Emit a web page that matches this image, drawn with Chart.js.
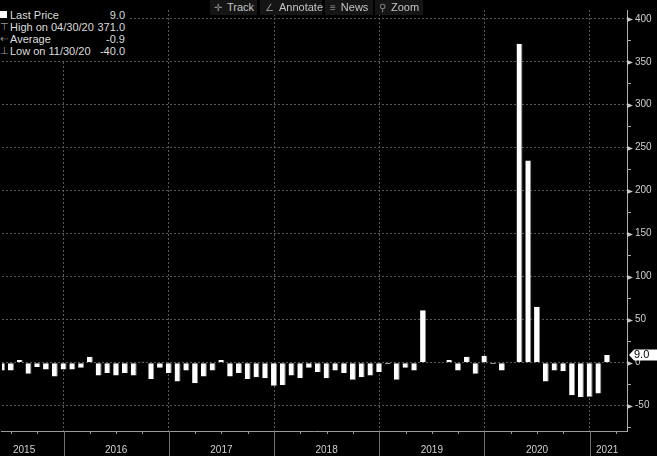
<!DOCTYPE html>
<html>
<head>
<meta charset="utf-8">
<script src="https://cdn.jsdelivr.net/npm/chart.js@4.4.1/dist/chart.umd.min.js"></script>
<style>
    html, body { margin: 0; padding: 0; background: #000; }
    #wrap { position: relative; width: 657px; height: 456px; overflow: hidden; font-family: "Liberation Sans", Arial, sans-serif; }
    #chart { position: absolute; left: 0; top: 0; }
    .legend { position: absolute; left: 0; top: 9px; width: 130px; background: #000; color: #dcdcdc; font-size: 11px; padding-bottom: 3px; }
    .legend .row { display: flex; height: 12px; line-height: 12px; white-space: nowrap; }
    .legend .ico { width: 10px; color: #9a9a9a; font-size: 10px; position: relative; }
    .legend .sq { position: absolute; left: 0; top: 2px; width: 7px; height: 7px; background: #fff; }
    .legend .lbl { flex: 1; }
    .legend .val { text-align: right; padding-right: 5px; }
    .btn { position: absolute; top: 0; height: 15px; line-height: 15px; background: #151515; color: #c4c4c4; font-size: 11px; white-space: nowrap; }
    .btn .i { color: #8c8c8c; margin-right: 5px; font-size: 10px; }
</style>
</head>
<body>
<div id="wrap">
    <canvas id="chart" width="657" height="456"></canvas>
    <div class="legend">
        <div class="row"><span class="ico"><span class="sq"></span></span><span class="lbl">Last Price</span><span class="val">9.0</span></div>
        <div class="row"><span class="ico">⊤</span><span class="lbl">High on 04/30/20</span><span class="val">371.0</span></div>
        <div class="row"><span class="ico">⇠</span><span class="lbl">Average</span><span class="val">-0.9</span></div>
        <div class="row"><span class="ico">⊥</span><span class="lbl">Low on 11/30/20</span><span class="val">-40.0</span></div>
    </div>
    <div class="btn" style="left:210px;width:47px;padding-left:4px;box-sizing:border-box"><span class="i">✛</span>Track</div>
    <div class="btn" style="left:260px;width:62px;padding-left:5px;box-sizing:border-box"><span class="i">∠</span>Annotate</div>
    <div class="btn" style="left:325px;width:48px;padding-left:5px;box-sizing:border-box"><span class="i">≡</span>News</div>
    <div class="btn" style="left:375px;width:48px;padding-left:4px;box-sizing:border-box"><span class="i">⚲</span>Zoom</div>
</div>
<script>
// monthly values, month-end; 2015 starts in May, 2021 ends in Feb
const years = ['2015', '2016', '2017', '2018', '2019', '2020', '2021'];
const firstMonth2015 = 5;
const vals2015 = [-9, -9, 3, -13, -5, -8, -16, -8];
const vals2016 = [-8, -6, 7, -15, -12, -15, -12, -15, 1, -19, -6, -12];
const vals2017 = [-22, -9, -24, -16, -9, 3, -16, -12, -19, -17, -18, -27];
const vals2018 = [-26, -15, -18, -6, -11, -18, -9, -12, -20, -17, -15, -11];
const vals2019 = [-2, -20, -6, -9, 61, 0.6, 0.5, 3, -9, 7, -13, 8];
const vals2020 = [-1.5, -9, 0.5, 371, 235, 65, -22, -9, -10, -38, -40, -39.6];
const vals2021 = [-36, 9];

// year label positions (in months since Jan 2015) and y tick values
const yearLabelPos = [7.5, 18, 30, 42, 54, 66, 74];
const yearEnds = [12, 24, 36, 48, 60, 72];
const yTickValues = [-75, -50, -25, 0, 25, 50, 75, 100, 125, 150, 175, 200, 225, 250, 275, 300, 325, 350, 375, 400];

const points = [];
[vals2015, vals2016, vals2017, vals2018, vals2019, vals2020, vals2021].forEach((arr, k) => {
    const start = k === 0 ? firstMonth2015 : 1;
    arr.forEach((v, j) => points.push({ x: k * 12 + start + j, y: v }));
});
const lastValue = points[points.length - 1].y;

const axisFont = { family: '"Liberation Sans", Arial, sans-serif', size: 10 };

const decorations = {
    id: 'decorations',
    afterDraw(chart) {
        const { ctx, chartArea } = chart;
        const xs = chart.scales.x, ys = chart.scales.y;
        ctx.save();
        // year separators under the axis
        ctx.strokeStyle = '#707070';
        ctx.lineWidth = 1;
        yearEnds.forEach(v => {
            const px = Math.round(xs.getPixelForValue(v)) + 0.5;
            ctx.beginPath();
            ctx.moveTo(px, chartArea.bottom);
            ctx.lineTo(px, chart.height);
            ctx.stroke();
        });
        // quarter ticks
        ctx.strokeStyle = '#999';
        for (let m = 3; m < xs.max; m += 3) {
            if (m < xs.min || m % 12 === 0) continue;
            const px = Math.round(xs.getPixelForValue(m)) + 0.5;
            ctx.beginPath();
            ctx.moveTo(px, chartArea.bottom);
            ctx.lineTo(px, chartArea.bottom + 3);
            ctx.stroke();
        }
        // triangles on major y ticks
        ctx.fillStyle = '#c8c8c8';
        const ax = chartArea.right;
        yTickValues.filter(v => v % 50 === 0).forEach(v => {
            const py = Math.round(ys.getPixelForValue(v)) + 0.5;
            ctx.beginPath();
            ctx.moveTo(ax, py - 2.5);
            ctx.lineTo(ax + 6, py);
            ctx.lineTo(ax, py + 2.5);
            ctx.closePath();
            ctx.fill();
        });
        // last value tag
        const py = ys.getPixelForValue(lastValue);
        ctx.fillStyle = '#fff';
        ctx.beginPath();
        ctx.moveTo(ax + 2, py);
        ctx.lineTo(ax + 7, py - 5.5);
        ctx.lineTo(chart.width, py - 5.5);
        ctx.lineTo(chart.width, py + 5.5);
        ctx.lineTo(ax + 7, py + 5.5);
        ctx.closePath();
        ctx.fill();
        ctx.fillStyle = '#000';
        ctx.font = '11px "Liberation Sans", Arial, sans-serif';
        ctx.textBaseline = 'middle';
        ctx.fillText(lastValue.toFixed(1), ax + 7, py + 0.5);
        ctx.restore();
    }
};

new Chart(document.getElementById('chart'), {
    type: 'bar',
    data: {
        datasets: [{
            data: points,
            backgroundColor: '#ffffff',
            borderColor: '#8a8a8a',
            borderWidth: { right: 1, left: 0, top: 0, bottom: 0 },
            borderSkipped: false,
            barPercentage: 0.68,
            categoryPercentage: 1
        }]
    },
    options: {
        responsive: false,
        animation: false,
        events: [],
        layout: { padding: 0 },
        plugins: { legend: { display: false }, tooltip: { enabled: false } },
        scales: {
            x: {
                type: 'linear',
                min: 4.974,
                max: 76.26,
                offset: false,
                afterBuildTicks: s => { s.ticks = [...yearEnds, ...yearLabelPos].sort((a, b) => a - b).map(v => ({ value: v })); },
                afterFit: s => { s.height = 25; },
                grid: {
                    offset: false,
                    color: c => (c.tick && yearEnds.includes(c.tick.value)) ? '#5a5a5a' : 'transparent',
                    drawTicks: false
                },
                border: { display: true, color: '#9a9a9a', dash: [2, 2] },
                ticks: {
                    autoSkip: false,
                    maxRotation: 0,
                    padding: 13,
                    color: '#d0d0d0',
                    font: axisFont,
                    callback: v => { const i = yearLabelPos.indexOf(v); return i >= 0 ? years[i] : ''; }
                }
            },
            y: {
                position: 'right',
                min: -79.5,
                max: 410.2,
                afterBuildTicks: s => { s.ticks = yTickValues.map(v => ({ value: v })); },
                afterFit: s => { s.width = 30; },
                grid: {
                    color: c => (c.tick && c.tick.value % 50 === 0) ? '#5a5a5a' : 'transparent',
                    tickLength: 4,
                    tickColor: c => (c.tick && c.tick.value % 50 === 0) ? 'transparent' : '#aaa'
                },
                border: { display: true, color: '#b0b0b0', dash: [2, 2] },
                ticks: {
                    autoSkip: false,
                    padding: 4,
                    color: '#d0d0d0',
                    font: axisFont,
                    callback: v => v % 50 === 0 ? String(v) : ''
                }
            }
        }
    },
    plugins: [decorations]
});
</script>
</body>
</html>
